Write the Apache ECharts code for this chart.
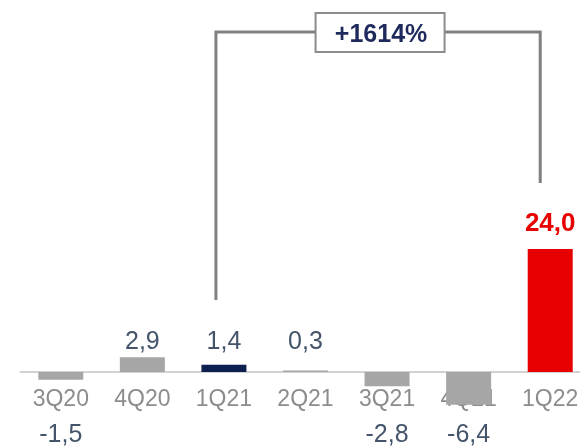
<!DOCTYPE html>
<html><head><meta charset="utf-8">
<script src="https://cdn.jsdelivr.net/npm/echarts@6/dist/echarts.min.js"></script>
<style>html,body{margin:0;padding:0;background:#fff}#c{width:580px;height:447px}</style>
</head><body><div id="c"></div>
<script>
const categories = ['3Q20','4Q20','1Q21','2Q21','3Q21','4Q21','1Q22'];
const values = [-1.5, 2.9, 1.4, 0.3, -2.8, -6.4, 24.0];
const barColors = ['#a6a6a6','#a6a6a6','#0c1f4f','#a6a6a6','#a6a6a6','#a6a6a6','#e60000'];
const growthLabel = '+1614%';
const fromIdx = 2, toIdx = 6;

const fmt = v => v.toFixed(1).replace('.', ',');
const FONT = '"Liberation Sans", Arial, sans-serif';

const chart = echarts.init(document.getElementById('c'));
chart.setOption({
  animation: false,
  grid: { left: 20, width: 571, top: 64.5, height: 307.5, containLabel: false, outerBoundsMode: 'none' },
  xAxis: [{
    type: 'category', data: categories, position: 'bottom',
    axisLine: { onZero: false, lineStyle: { color: '#c4c4c4', width: 1.5 } },
    axisTick: { show: false },
    axisLabel: {
      margin: 11, interval: 0,
      formatter: (c, i) => '{c|' + c + '}\n{v|' + (values[i] < 0 ? fmt(values[i]) : ' ') + '}',
      rich: {
        c: { fontFamily: FONT, fontSize: 23, color: '#8c8c8c', lineHeight: 34 },
        v: { fontFamily: FONT, fontSize: 25, color: '#44546a', lineHeight: 36 }
      }
    }
  }, {
    type: 'category', data: categories, position: 'bottom',
    axisLine: { show: false, onZero: false },
    axisTick: { show: false },
    axisLabel: {
      inside: true, margin: 17, interval: 0,
      fontFamily: FONT, fontSize: 25, color: '#44546a',
      formatter: (c, i) => (values[i] >= 0 && i !== toIdx) ? fmt(values[i]) : ''
    }
  }],
  yAxis: { type: 'value', min: 0, max: 60, show: false, splitLine: { show: false } },
  series: [{
    type: 'bar', barWidth: 45, clip: false,
    data: values.map((v, i) => ({
      value: v,
      itemStyle: { color: barColors[i] },
      label: i === toIdx ? {
        show: true, position: 'top', distance: 12,
        formatter: p => fmt(p.value),
        fontFamily: FONT, fontSize: 26, fontWeight: 'bold', color: '#e60000'
      } : { show: false }
    }))
  }]
});

function drawBracket() {
  const xL = chart.convertToPixel({ xAxisIndex: 0 }, categories[fromIdx]) - 8;
  const xR = chart.convertToPixel({ xAxisIndex: 0 }, categories[toIdx]) - 10;
  const yTop = 32, yLB = 300, yRB = 183;
  const cx = (xL + xR) / 2 + 2;
  chart.setOption({
    graphic: [
      { type: 'polyline', shape: { points: [[xL, yLB], [xL, yTop], [xR, yTop], [xR, yRB]] },
        style: { stroke: '#808080', lineWidth: 3, fill: null }, z: 10 },
      { type: 'rect', shape: { x: cx - 64.5, y: 13, width: 129, height: 39 },
        style: { fill: '#fff', stroke: '#8c8c8c', lineWidth: 2 }, z: 11 },
      { type: 'text', x: cx + 1, y: 35, z: 12,
        style: { text: growthLabel, fontFamily: FONT, fontSize: 25, fontWeight: 'bold',
          fill: '#1f2a5c', align: 'center', verticalAlign: 'middle' } }
    ]
  });
}
drawBracket();
</script></body></html>
